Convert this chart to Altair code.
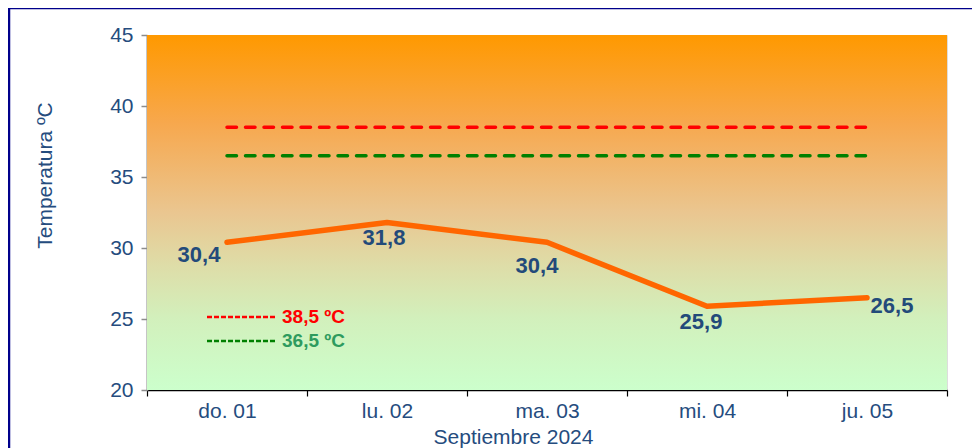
import altair as alt
import pandas as pd

days = ["do. 01", "lu. 02", "ma. 03", "mi. 04", "ju. 05"]
temps = [30.4, 31.8, 30.4, 25.9, 26.5]
labels = ["30,4", "31,8", "30,4", "25,9", "26,5"]
thr_red = 38.5
thr_green = 36.5
legend_texts = ["38,5 ºC", "36,5 ºC"]

W, H = 800, 355
df = pd.DataFrame({"day": days, "temp": temps, "label": labels,
                   "idx": list(range(len(days))),
                   "red": [thr_red] * len(days), "green": [thr_green] * len(days)})

AXIS_COLOR = "#254C7E"
LABEL_COLOR = "#234A7A"
FONT = "Liberation Sans"

xenc = alt.X("day:N", sort=days,
             scale=alt.Scale(domain=days, paddingInner=0, paddingOuter=0),
             axis=alt.Axis(title="Septiembre 2024", labelAngle=0, tickBand="extent",
                           domainColor="#000000", domainWidth=1.5, tickColor="#000000",
                           tickSize=6, tickWidth=1.2, labelFontSize=21, labelPadding=4,
                           labelColor=AXIS_COLOR, labelFont=FONT,
                           titleFont=FONT, titleFontSize=21, titleFontWeight="normal",
                           titleColor=AXIS_COLOR, titleX=366, titleY=47,
                           titleBaseline="middle"))
yscale = alt.Scale(domain=[20, 45], nice=False, zero=False)
yaxis = alt.Axis(title="Temperatura ºC", values=[20, 25, 30, 35, 40, 45], grid=False,
                 domainColor="#8C8C8C", domainWidth=2, tickColor="#8C8C8C", tickSize=6,
                 tickWidth=1.5, labelFontSize=21, labelPadding=8, labelColor=AXIS_COLOR,
                 labelFont=FONT, titleFont=FONT, titleFontSize=21,
                 titleFontWeight="normal", titleColor=AXIS_COLOR, titleX=-102,
                 titleY=140, titleBaseline="middle", titleAngle=-90)

base = alt.Chart(df)

grad = alt.Gradient(gradient="linear", x1=0, x2=0, y1=0, y2=1, stops=[
    alt.GradientStop(color="#FF9900", offset=0),
    alt.GradientStop(color="#F7A84E", offset=0.25),
    alt.GradientStop(color="#EAC690", offset=0.5),
    alt.GradientStop(color="#DEDDA8", offset=0.65),
    alt.GradientStop(color="#D2F0BC", offset=0.8),
    alt.GradientStop(color="#CCFFCC", offset=1),
])

bg = alt.Chart(pd.DataFrame({"a": [0]})).mark_rect(fill=grad).encode(
    x=alt.value(0), x2=alt.value(W), y=alt.value(0), y2=alt.value(H))

frame = alt.Chart(pd.DataFrame({"a": [0]})).mark_rect(
    fill="transparent", stroke="#00008B", strokeWidth=2.5, clip=False).encode(
    x=alt.value(-138), x2=alt.value(W + 60), y=alt.value(-27), y2=alt.value(H + 100))

red_line = base.mark_line(color="#FF0000", strokeWidth=3.5, strokeDash=[9.5, 9],
                          strokeCap="round").encode(x=xenc, y=alt.Y("red:Q", scale=yscale, axis=yaxis))
green_line = base.mark_line(color="#008000", strokeWidth=3.5, strokeDash=[9.5, 9],
                            strokeCap="round").encode(x=xenc, y=alt.Y("green:Q", scale=yscale))

data_line = base.mark_line(color="#FF6600", strokeWidth=5.5, strokeCap="round",
                           strokeJoin="round").encode(x=xenc, y=alt.Y("temp:Q", scale=yscale))

def lab(filt, dx, dy, align="center"):
    return base.transform_filter(filt).mark_text(
        font=FONT, fontSize=22, fontWeight="bold", color=LABEL_COLOR,
        dx=dx, dy=dy, align=align, baseline="middle").encode(
        x=xenc, y=alt.Y("temp:Q", scale=yscale), text="label:N")

lab0 = lab("datum.idx == 0", -28, 13)
lab1 = lab("datum.idx == 1", -3, 16)
lab2 = lab("datum.idx == 2", -10, 24)
lab3 = lab("datum.idx == 3", -6, 16)
lab4 = lab("datum.idx == 4", 25, 8)

leg_df = pd.DataFrame({"t": legend_texts})
leg_red = alt.Chart(pd.DataFrame({"a": [0]})).mark_rule(
    color="#FF0000", strokeWidth=2.5, strokeDash=[5, 2]).encode(
    x=alt.value(60), x2=alt.value(128), y=alt.value(282))
leg_green = alt.Chart(pd.DataFrame({"a": [0]})).mark_rule(
    color="#008000", strokeWidth=2.5, strokeDash=[5, 2]).encode(
    x=alt.value(60), x2=alt.value(128), y=alt.value(306))
leg_t1 = alt.Chart(leg_df.iloc[[0]]).mark_text(
    font=FONT, fontSize=19, fontWeight="bold", color="#FF0000", align="left",
    baseline="middle").encode(x=alt.value(135), y=alt.value(282), text="t:N")
leg_t2 = alt.Chart(leg_df.iloc[[1]]).mark_text(
    font=FONT, fontSize=19, fontWeight="bold", color="#2E9B5E", align="left",
    baseline="middle").encode(x=alt.value(135), y=alt.value(306), text="t:N")

chart = alt.layer(bg, red_line, green_line, data_line, lab0, lab1, lab2, lab3, lab4,
                  leg_red, leg_green, leg_t1, leg_t2, frame).properties(
    width=W, height=H,
    autosize=alt.AutoSizeParams(type="none"),
    padding={"left": 139, "top": 27, "right": 25, "bottom": 66},
).configure_view(stroke="#B0652A", strokeWidth=1.5).configure(background="white")

chart.save("out.html", embed_options={"renderer": "svg", "actions": False})
